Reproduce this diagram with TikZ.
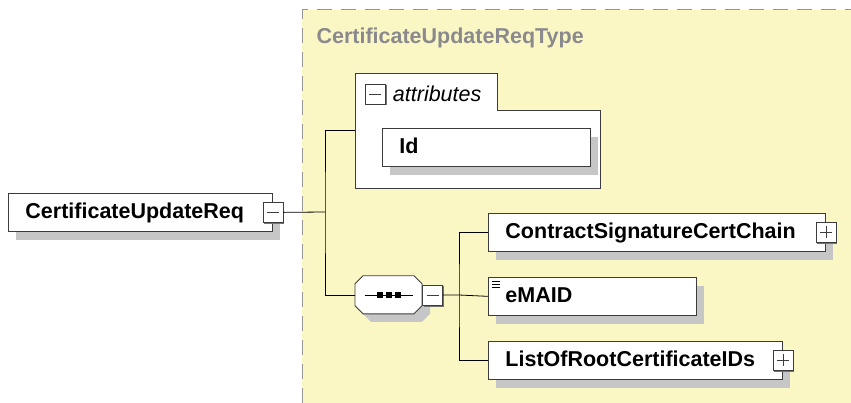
\documentclass[tikz,border=0pt]{standalone}
\usepackage{fontspec}
\setmainfont{Liberation Sans}
\usetikzlibrary{positioning,shadows}
\definecolor{cArea}{RGB}{250,247,197}
\definecolor{cDash}{RGB}{150,150,150}
\definecolor{cShade}{RGB}{198,198,198}
\definecolor{cTitle}{RGB}{138,138,142}
\definecolor{cEdge}{RGB}{60,60,60}

\begin{document}
\begin{tikzpicture}[
  x=1pt, y=-1pt,
  font=\fontsize{21.5}{25}\selectfont,
  elem/.style={rectangle, draw=cEdge, line width=0.9pt, fill=white, anchor=north west,
    text width=#1, align=left, inner xsep=17pt, inner ysep=0pt, minimum height=38pt,
    text height=16pt, text depth=4.5pt, font=\fontsize{21.5}{25}\selectfont\bfseries,
    general shadow={shadow xshift=8pt, shadow yshift=-9pt, fill=cShade}},
  btn/.style={rectangle, draw=cEdge, line width=0.8pt, fill=white, minimum size=20pt, inner sep=0pt,
    general shadow={shadow xshift=1.5pt, shadow yshift=-1.5pt, fill=black!55}},
  minusbtn/.style={btn, path picture={
    \draw[line width=0.8pt] ([xshift=4pt]path picture bounding box.west) -- ([xshift=-4pt]path picture bounding box.east);}},
  plusbtn/.style={btn, path picture={
    \draw[line width=0.8pt] ([xshift=4pt]path picture bounding box.west) -- ([xshift=-4pt]path picture bounding box.east)
      ([yshift=-4pt]path picture bounding box.north) -- ([yshift=4pt]path picture bounding box.south);}},
  wire/.style={draw=black, line width=0.8pt},
]
\useasboundingbox (0,0) rectangle (851,403);
\fill[cArea] (302,10) rectangle (851,403);
\draw[cDash, line width=1pt, dash pattern=on 15pt off 9pt] (302,403) -- (302,10) -- (851,10);
\node[font=\fontsize{21.5}{25}\selectfont\bfseries, text=cTitle, anchor=base west] (title) at (313,44) {CertificateUpdateReqType};

\node[anchor=north west, minimum width=245pt, minimum height=115pt, inner sep=0pt] (attr) at (355,73) {};
\draw[cEdge, line width=0.9pt, fill=white] (attr.north west) -- ++(142,0) |- ([yshift=-37pt]attr.north east)
  -- (attr.south east) -- (attr.south west) -- cycle;
\node[minusbtn] (attrbtn) at (375,94) {};
\node[font=\fontsize{21.5}{25}\selectfont\itshape, right=4pt of attrbtn] (attrlbl) {attributes};
\node[elem=174pt] (id) at (382,128) {Id};

\node[elem=230pt] (root) at (8,193) {CertificateUpdateReq};
\node[minusbtn] (rootbtn) at (root.east) {};

\node[anchor=west, minimum width=67pt, minimum height=38pt, inner sep=0pt] (seq) at (355,295) {};
\fill[cShade] ([shift={(8pt,-8pt)}]seq.north west) ++(8,0) -- ++(51,0) -- ++(8,8) -- ++(0,22)
  -- ++(-8,8) -- ++(-51,0) -- ++(-8,-8) -- ++(0,-22) -- cycle;
\filldraw[fill=white, draw=cEdge, line width=0.9pt] (seq.north west) ++(8,0) -- ++(51,0) -- ++(8,8) -- ++(0,22)
  -- ++(-8,8) -- ++(-51,0) -- ++(-8,-8) -- ++(0,-22) -- cycle;
\draw[line width=0.9pt] ([xshift=-24pt]seq.center) -- ([xshift=24pt]seq.center);
\foreach \dx in {-9pt,0pt,9pt}
  \fill ([xshift=\dx]seq.center) +(-3,-3) rectangle +(3,3);
\node[minusbtn, anchor=west] (seqbtn) at (seq.east) {};

\node[elem=303pt] (cert) at (488,213) {ContractSignatureCertChain};
\node[plusbtn] (certbtn) at (cert.east) {};
\node[elem=174pt, below=25pt of cert.south west, anchor=north west] (emaid) {eMAID};
\foreach \dy in {4pt,7pt,10pt}
  \draw[line width=0.5pt] ([xshift=4pt, yshift=-\dy]emaid.north west) -- ++(8,0);
\node[elem=260pt, below=25pt of emaid.south west, anchor=north west] (list) {ListOfRootCertificateIDs};
\node[plusbtn] (listbtn) at (list.east) {};

\coordinate (forkA) at (325,212);
\draw[wire] (rootbtn) -- (forkA);
\draw[wire] (attr.west) -| (forkA) |- (seq.west);
\coordinate (forkB) at (459,295);
\draw[wire] (seqbtn.east) -- (forkB) -- (emaid.west);
\draw[wire] (cert.west) -| (forkB) |- (list.west);
\end{tikzpicture}
\end{document}
